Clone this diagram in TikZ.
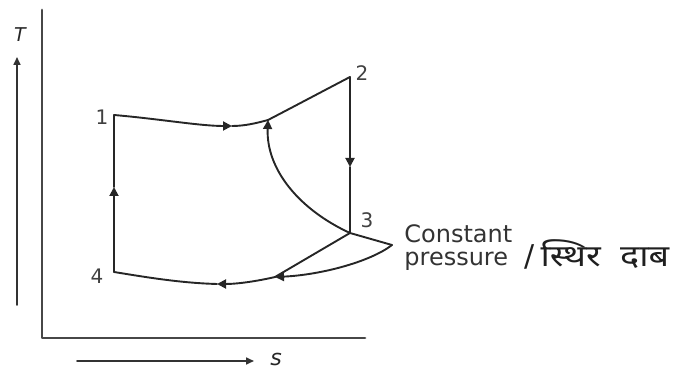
\documentclass[tikz,border=0pt]{standalone}
\usepackage{fontspec}
\setmainfont{DejaVu Sans}
\newfontfamily\hindifont[Script=Devanagari,FakeStretch=1.2]{Noto Sans}
\usetikzlibrary{arrows.meta}
\begin{document}
\begin{tikzpicture}[x=0.5pt,y=-0.5pt,line join=round,line cap=round,
  cyc/.style={draw=black!85,line width=0.95pt},
  cyca/.style={cyc,-{Triangle[length=4.5pt,width=4.5pt]}},
  axisline/.style={draw=black!72,line width=1.4pt},
  dirarrow/.style={draw=black!80,line width=0.8pt,-{Triangle[length=4pt,width=3.5pt]}},
  num/.style={font=\fontsize{10}{12}\selectfont,text=black!75,inner sep=0pt},
  axlbl/.style={font=\fontsize{9.5}{11}\selectfont\itshape,text=black!85,inner sep=0pt}]
\useasboundingbox (0,0) rectangle (675,373);
\clip (0,0) rectangle (675,373);
% axes
\coordinate (ytop) at (42,10);
\coordinate (org) at (42,338);
\coordinate (xend) at (365,338);
\draw[axisline] (ytop) -- (org) -- (xend);
% direction arrows
\coordinate (tb) at (17,305);
\coordinate (tt) at (17,57);
\draw[dirarrow] (tb) -- (tt);
\node[axlbl] (T) at (20,35) {T};
\coordinate (sb) at (77,361);
\coordinate (se) at (254,361);
\draw[dirarrow] (sb) -- (se);
\node[axlbl,anchor=base,font=\fontsize{11}{13}\selectfont\itshape] (s) at (276,366) {s};
% state points
\coordinate (p1) at (114,115);
\coordinate (p2) at (350,77);
\coordinate (p3) at (350,233);
\coordinate (p4) at (114,272);
\coordinate (a12) at (232,126);
\coordinate (ta) at (268,120);
\coordinate (m23) at (350,167);
\coordinate (m41) at (114,187);
\coordinate (tip) at (392,245);
\coordinate (jn) at (275,277);
\coordinate (bm) at (217,284);
% 1 -> 2
\draw[cyca] (p1) .. controls (160,119) and (200,126) .. (a12);
\draw[cyc] (a12) .. controls (245,126) and (257,123) .. (ta);
\draw[cyc] (ta) .. controls (295,106) and (325,90) .. (p2);
% 2 -> 3
\draw[cyca] (p2) -- (m23);
\draw[cyc] (m23) -- (p3);
% 3 -> arc up
\draw[cyca] (p3) .. controls (300,210) and (266,170) .. (ta);
% constant pressure lines
\draw[cyc] (p3) -- (jn);
\draw[cyc] (p3) -- (tip);
\draw[cyca] (tip) .. controls (370,262) and (320,275) .. (jn);
\draw[cyca] (jn) .. controls (258,281) and (238,284) .. (bm);
\draw[cyc] (bm) .. controls (180,283) and (145,277) .. (p4);
% 4 -> 1
\draw[cyca] (p4) -- (m41);
\draw[cyc] (m41) -- (p1);
% labels
\node[num] (n1) at (102,117) {1};
\node[num] (n2) at (362,73) {2};
\node[num] (n3) at (367,220) {3};
\node[num] (n4) at (97,276) {4};
\node[anchor=west,align=left,inner sep=0pt,font=\fontsize{12}{11.5}\selectfont,text=black!80] (cp) at (404,248) {Constant\\pressure};
\node[anchor=base west,inner sep=0pt,font=\fontsize{15}{17}\selectfont,text=black!88] (hi) at (524,267) {/\hspace{3pt}{\hindifont स्थिर\hspace{5pt} दाब}};
\end{tikzpicture}
\end{document}
